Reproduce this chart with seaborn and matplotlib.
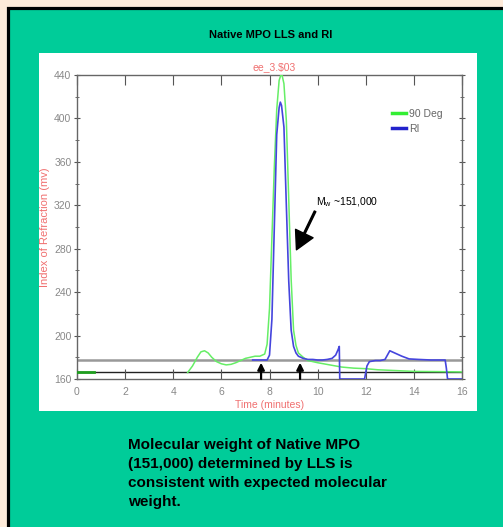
import matplotlib
matplotlib.use("Agg")
import matplotlib.pyplot as plt
import seaborn as sns
import numpy as np
import pandas as pd
from matplotlib.patches import Rectangle
from matplotlib.lines import Line2D

# ---- data ----
green_start_t = [0.0, 0.7]
green_start_v = [166, 166]

green_t = [4.6, 4.8, 5.0, 5.15, 5.3, 5.45, 5.6, 5.8, 6.0, 6.2, 6.4, 6.6, 6.8, 7.0, 7.2,
           7.4, 7.6, 7.8, 7.9, 8.0, 8.1, 8.2, 8.3, 8.4, 8.5, 8.6, 8.7, 8.8, 8.9, 9.0,
           9.1, 9.2, 9.4, 9.6, 9.8, 10.0, 10.5, 11.0, 11.5, 12.0, 12.5, 13.0, 14.0, 15.0, 16.0]
green_v = [166, 172, 180, 185, 186, 184, 180, 176, 174, 173, 173.5, 175, 177, 179, 180,
           181, 181, 183, 192, 225, 290, 355, 408, 435, 442, 432, 398, 325, 252, 205,
           191, 184, 180, 177, 176, 175, 173, 171, 170, 169.5, 168.5, 168, 167, 166.8, 166.5]

blue_t = [7.3, 7.6, 7.9, 8.0, 8.1, 8.2, 8.3, 8.4, 8.45, 8.5, 8.6, 8.7, 8.8, 8.9, 9.0,
          9.1, 9.2, 9.4, 9.6, 9.8, 10.0, 10.2, 10.4, 10.6, 10.75, 10.85, 10.9, 10.92,
          11.0, 11.5, 11.95, 12.05, 12.15, 12.4, 12.6, 12.8, 12.9, 13.0, 13.2, 13.5,
          13.8, 14.2, 14.7, 15.3, 15.35, 15.4, 16.0]
blue_v = [177.5, 177.5, 177.5, 182, 215, 300, 385, 410, 415, 412, 392, 320, 250, 205, 190,
          184, 181, 179, 178, 178, 177.5, 177.5, 178, 179, 182, 187, 190, 160,
          160, 160, 160, 172, 176, 177, 177, 178, 182, 186, 184, 181,
          178.5, 178, 177.5, 177.5, 170, 160, 160]

gray_level = 177.5
black_level = 166.5
marker_times = [7.65, 9.27]

x_ticks = [0, 2, 4, 6, 8, 10, 12, 14, 16]
y_ticks = [160, 200, 240, 280, 320, 360, 400, 440]

title = "Native MPO LLS and RI"
caption = ("Molecular weight of Native MPO\n(151,000) determined by LLS is\n"
           "consistent with expected molecular\nweight.")

# ---- figure ----
W, H = 503, 527
fig = plt.figure(figsize=(W / 100, H / 100), dpi=100)
fig.patch.set_facecolor("#FEEBDA")

panel = Rectangle((7.5 / W, -0.05), 1.2, 1 - 7.5 / H + 0.05, transform=fig.transFigure,
                  facecolor="#00CC99", edgecolor="black", linewidth=2.3, zorder=0)
fig.patches.append(panel)
white = Rectangle((39 / W, (H - 411) / H), 438 / W, 358 / H, transform=fig.transFigure,
                  facecolor="white", edgecolor="none", zorder=0.5)
fig.patches.append(white)

fig.text(271 / W, 1 - 35 / H, title, ha="center", va="center", fontsize=8,
         fontweight="bold", family="Liberation Sans", color="black")
fig.text(128 / W, 1 - 438 / H, caption, ha="left", va="top", fontsize=11,
         fontweight="bold", family="Liberation Sans", color="black", linespacing=1.45)

ax = fig.add_axes([77 / W, (H - 379) / H, 385 / W, 304 / H])
ax.set_zorder(3)
ax.set_facecolor("white")

ax.axhline(gray_level, color="#999999", lw=1.8, zorder=1)
ax.axhline(black_level, color="#222222", lw=1.0, zorder=1)

sns.lineplot(x=green_start_t, y=green_start_v, ax=ax, color="#1E9E1E", lw=2.0,
             sort=False, estimator=None, legend=False, zorder=3)
sns.lineplot(x=green_t, y=green_v, ax=ax, color="#66EE66", lw=1.1,
             sort=False, estimator=None, legend=False, zorder=3)
sns.lineplot(x=blue_t, y=blue_v, ax=ax, color="#4545DD", lw=1.2,
             sort=False, estimator=None, legend=False, zorder=4)

for t in marker_times:
    ax.annotate("", xy=(t, 175), xytext=(t, 160),
                arrowprops=dict(arrowstyle="-|>,head_length=0.5,head_width=0.25",
                                color="black", lw=1.6, mutation_scale=8,
                                shrinkA=0, shrinkB=0), zorder=5)

ax.set_xlim(0, 16)
ax.set_ylim(160, 440)
ax.set_xticks(x_ticks)
ax.set_yticks(y_ticks)
ax.set_yticks(np.arange(160, 441, 20), minor=True)
ax.tick_params(axis="both", which="both", direction="in", colors="#555555",
               labelcolor="#888888", labelsize=7.5, top=True, right=True)
ax.tick_params(axis="x", which="major", length=7, pad=6)
ax.tick_params(axis="y", which="major", length=4, direction="inout", pad=2)
ax.tick_params(axis="y", which="minor", length=3, direction="inout")
ax.tick_params(axis="y", which="both", right=True)
for lab in ax.get_xticklabels() + ax.get_yticklabels():
    lab.set_family("Liberation Sans")
for s in ax.spines.values():
    s.set_color("#666666")
    s.set_linewidth(1.0)

ax.set_xlabel("Time (minutes)", color="#F07070", fontsize=7.5, family="Liberation Sans",
              labelpad=2)
ax.set_ylabel("Index of Refraction (mv)", color="#F07070", fontsize=8,
              family="Liberation Sans", va="center")
ax.yaxis.set_label_coords((45 - 77) / 385, 0.5)

ax.text(8.2, 443, "ee_3.$03", color="#F07070", fontsize=7.5, ha="center", va="bottom",
        family="Liberation Sans")

ax.annotate("M$_\\mathregular{w}$ ~151,000", xy=(9.12, 279), xytext=(9.95, 317),
            fontsize=7.5, family="Liberation Sans", ha="left", va="bottom",
            arrowprops=dict(facecolor="black", edgecolor="black", width=1.2,
                            headwidth=14, headlength=13, shrink=0.0), zorder=6)

handles = [Line2D([], [], color="#33EE33", lw=2.5),
           Line2D([], [], color="#2222CC", lw=2.5)]
leg = ax.legend(handles, ["90 Deg", "RI"], loc="upper right", frameon=False,
                handlelength=1.4, handletextpad=0.3, labelspacing=0.5,
                bbox_to_anchor=(0.975, 0.92), prop={"family": "Liberation Sans", "size": 7.5})
for t in leg.get_texts():
    t.set_color("#666666")

fig.savefig("out.png", dpi=100, facecolor=fig.get_facecolor())
